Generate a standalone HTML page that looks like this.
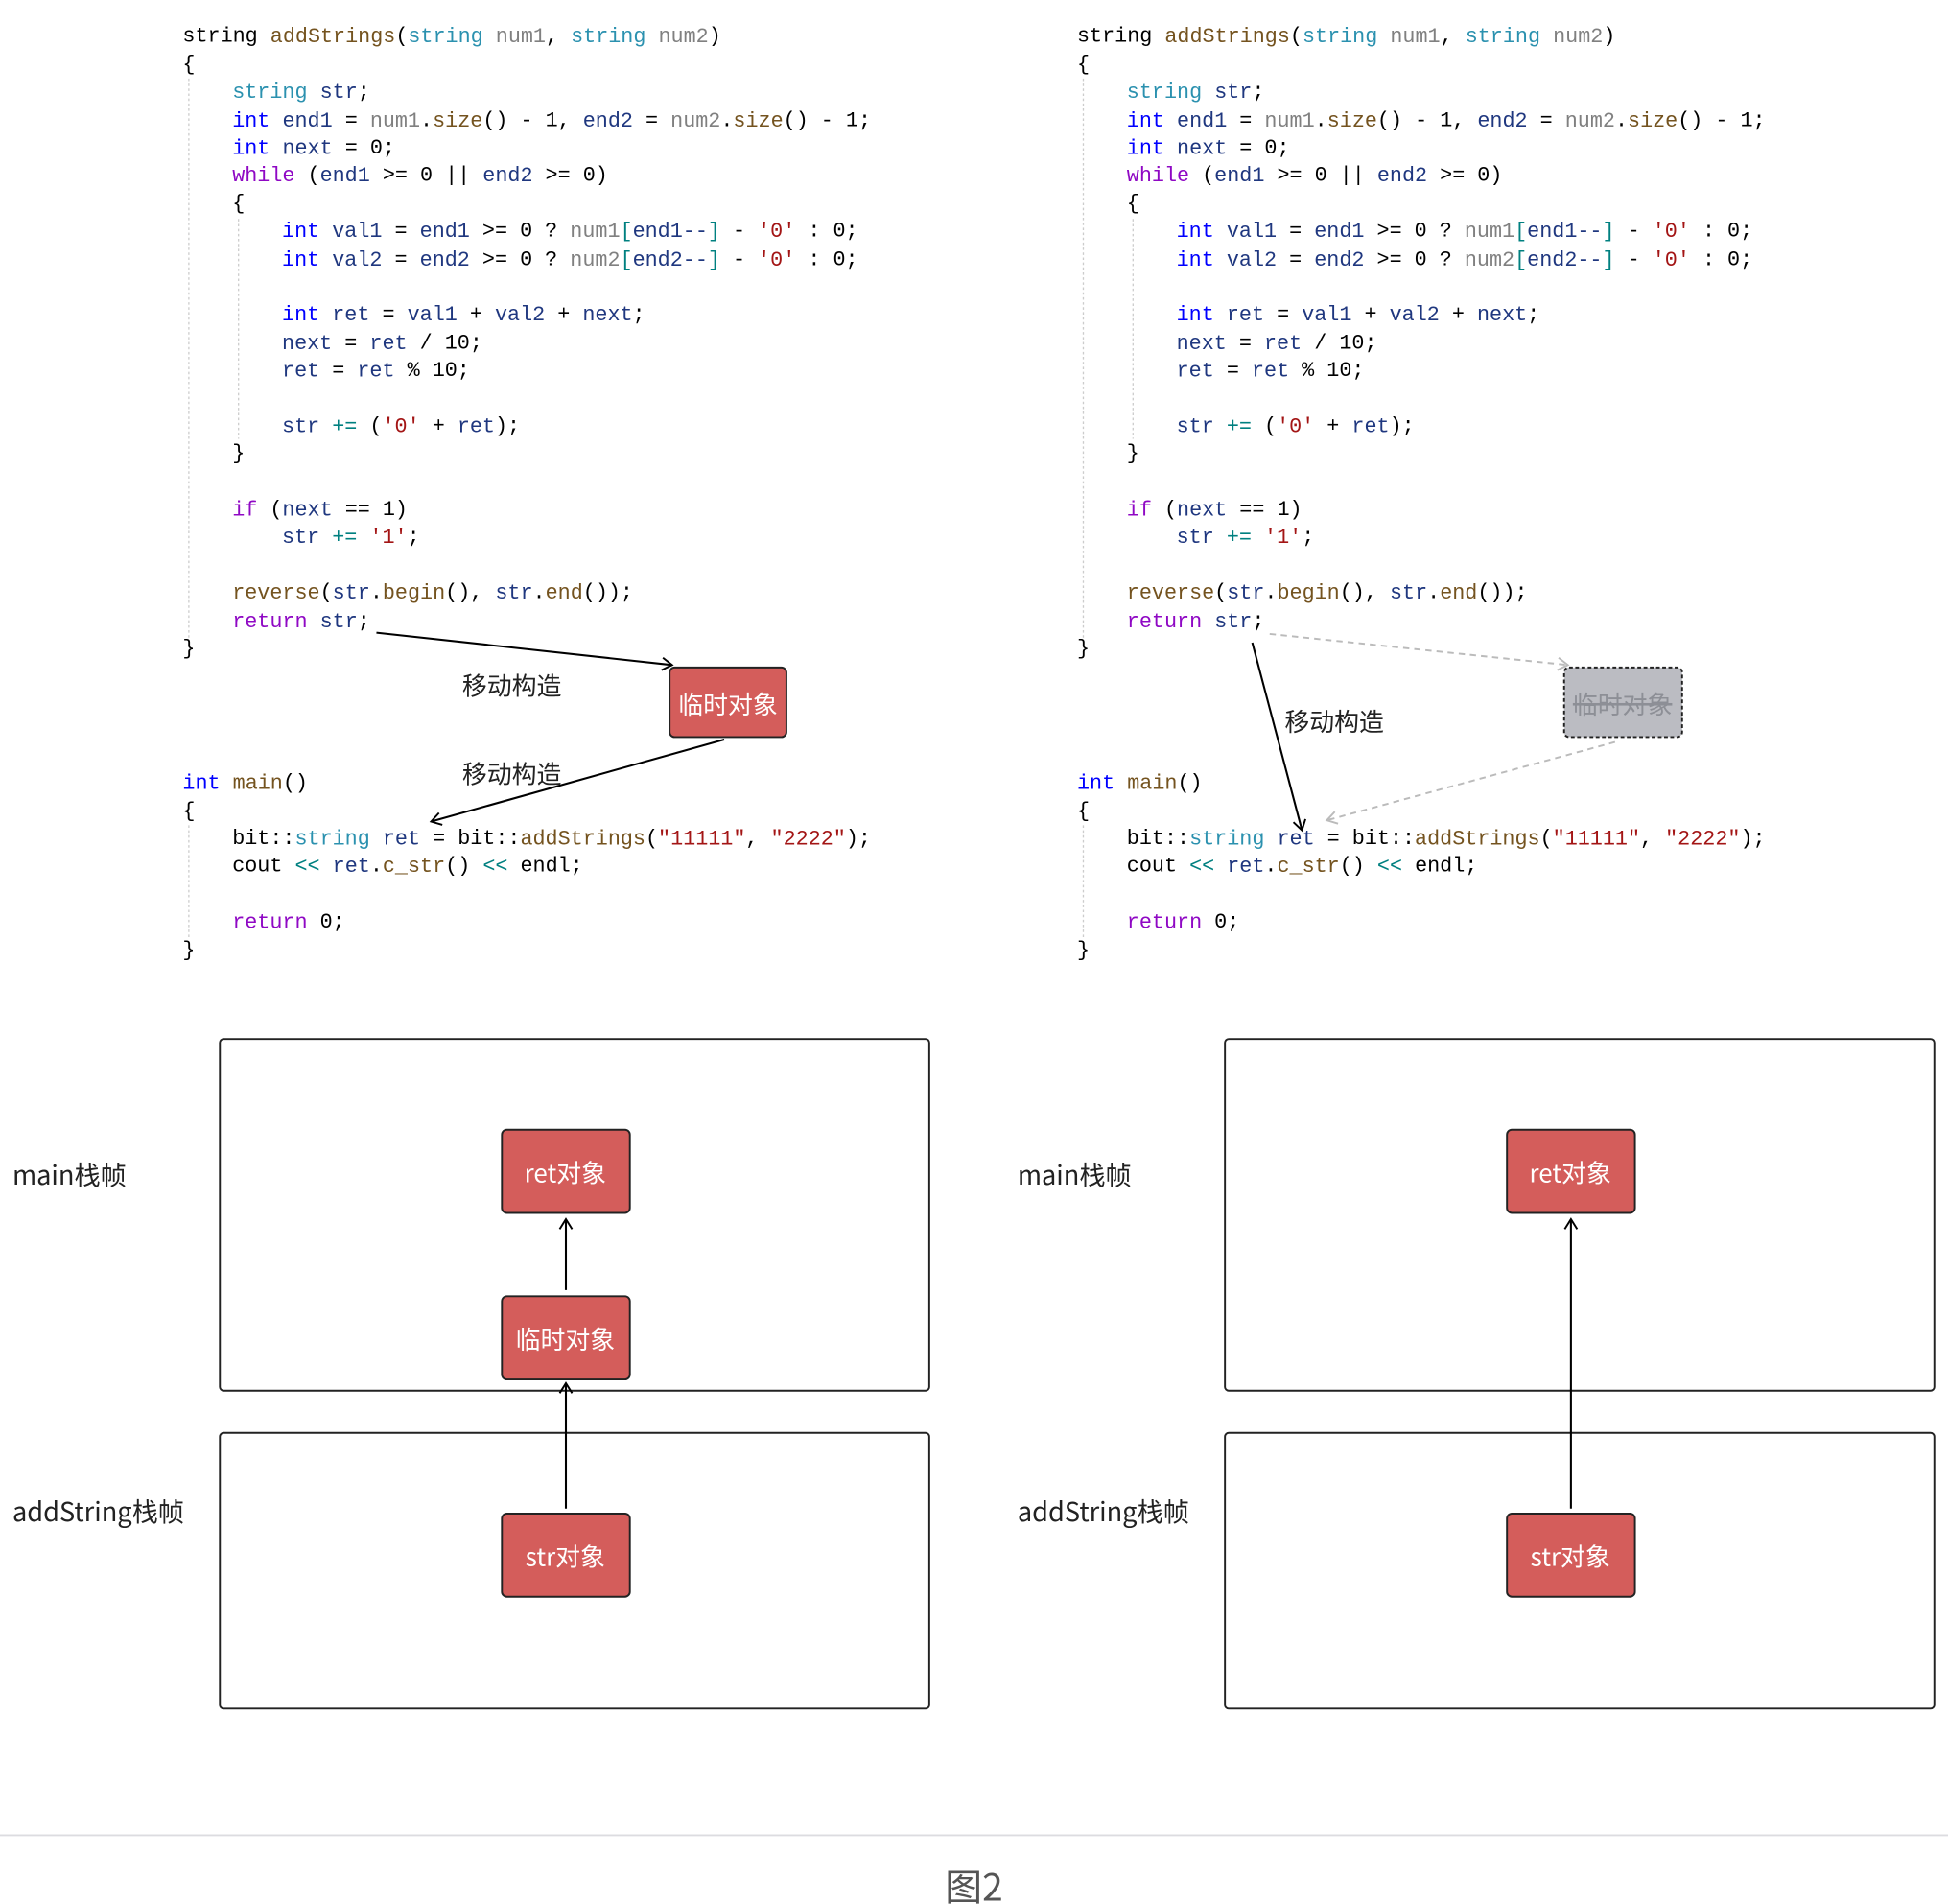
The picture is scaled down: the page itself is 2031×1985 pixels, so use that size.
<!DOCTYPE html>
<html><head><meta charset="utf-8"><style>
html,body{margin:0;padding:0;background:#fff;}
svg{display:block;}
.c{font-family:"Liberation Mono",monospace;font-size:16.8px;fill:#000;white-space:pre;}
.K{fill:#0000ff}.P{fill:#8f08c4}.T{fill:#2b91af}.F{fill:#74531f}.G{fill:#808080}.V{fill:#1f377f}.S{fill:#a31515}.O{fill:#008080}
.lb{font-family:"Noto Sans CJK SC",sans-serif;font-size:21px;fill:#222;}
.bx{font-family:"Noto Sans CJK SC",sans-serif;font-size:20px;fill:#fff;}
</style></head><body>
<svg width="2031" height="1985" viewBox="0 0 1568 1532" xmlns="http://www.w3.org/2000/svg">
<defs>
<marker id="a" markerWidth="12" markerHeight="12" refX="10" refY="6" orient="auto" markerUnits="userSpaceOnUse"><path d="M2,1 L10,6 L2,11" fill="none" stroke="#000" stroke-width="1.5"/></marker>
<marker id="ag" markerWidth="12" markerHeight="12" refX="10" refY="6" orient="auto" markerUnits="userSpaceOnUse"><path d="M2,1 L10,6 L2,11" fill="none" stroke="#bbb" stroke-width="1.5"/></marker>
</defs>

<g transform="translate(0,1)">
<line x1="152" y1="62" x2="152" y2="512" stroke="#ccc" stroke-dasharray="2,2"/>
<line x1="192" y1="175" x2="192" y2="352" stroke="#ccc" stroke-dasharray="2,2"/>
<line x1="152" y1="663" x2="152" y2="755" stroke="#ccc" stroke-dasharray="2,2"/>
<g class="c" dominant-baseline="central" xml:space="preserve">
<text x="147" y="28">string <tspan class="F">addStrings</tspan>(<tspan class="T">string</tspan> <tspan class="G">num1</tspan>, <tspan class="T">string</tspan> <tspan class="G">num2</tspan>)</text>
<text x="147" y="51">{</text>
<text x="187" y="73"><tspan class="T">string</tspan> <tspan class="V">str</tspan>;</text>
<text x="187" y="96"><tspan class="K">int</tspan> <tspan class="V">end1</tspan> = <tspan class="G">num1</tspan>.<tspan class="F">size</tspan>() - 1, <tspan class="V">end2</tspan> = <tspan class="G">num2</tspan>.<tspan class="F">size</tspan>() - 1;</text>
<text x="187" y="118"><tspan class="K">int</tspan> <tspan class="V">next</tspan> = 0;</text>
<text x="187" y="140"><tspan class="P">while</tspan> (<tspan class="V">end1</tspan> &gt;= 0 || <tspan class="V">end2</tspan> &gt;= 0)</text>
<text x="187" y="163">{</text>
<text x="227" y="185"><tspan class="K">int</tspan> <tspan class="V">val1</tspan> = <tspan class="V">end1</tspan> &gt;= 0 ? <tspan class="G">num1</tspan><tspan class="O">[</tspan><tspan class="V">end1--</tspan><tspan class="O">]</tspan> - <tspan class="S">'0'</tspan> : 0;</text>
<text x="227" y="208"><tspan class="K">int</tspan> <tspan class="V">val2</tspan> = <tspan class="V">end2</tspan> &gt;= 0 ? <tspan class="G">num2</tspan><tspan class="O">[</tspan><tspan class="V">end2--</tspan><tspan class="O">]</tspan> - <tspan class="S">'0'</tspan> : 0;</text>
<text x="227" y="252"><tspan class="K">int</tspan> <tspan class="V">ret</tspan> = <tspan class="V">val1</tspan> + <tspan class="V">val2</tspan> + <tspan class="V">next</tspan>;</text>
<text x="227" y="275"><tspan class="V">next</tspan> = <tspan class="V">ret</tspan> / 10;</text>
<text x="227" y="297"><tspan class="V">ret</tspan> = <tspan class="V">ret</tspan> % 10;</text>
<text x="227" y="342"><tspan class="V">str</tspan> <tspan class="O">+=</tspan> (<tspan class="S">'0'</tspan> + <tspan class="V">ret</tspan>);</text>
<text x="187" y="364">}</text>
<text x="187" y="409"><tspan class="P">if</tspan> (<tspan class="V">next</tspan> == 1)</text>
<text x="227" y="431"><tspan class="V">str</tspan> <tspan class="O">+=</tspan> <tspan class="S">'1'</tspan>;</text>
<text x="187" y="476"><tspan class="F">reverse</tspan>(<tspan class="V">str</tspan>.<tspan class="F">begin</tspan>(), <tspan class="V">str</tspan>.<tspan class="F">end</tspan>());</text>
<text x="187" y="499"><tspan class="P">return</tspan> <tspan class="V">str</tspan>;</text>
<text x="147" y="521">}</text>
<text x="147" y="629"><tspan class="K">int</tspan> <tspan class="F">main</tspan>()</text>
<text x="147" y="652">{</text>
<text x="187" y="674">bit::<tspan class="T">string</tspan> <tspan class="V">ret</tspan> = bit::<tspan class="F">addStrings</tspan>(<tspan class="S">"11111"</tspan>, <tspan class="S">"2222"</tspan>);</text>
<text x="187" y="696">cout <tspan class="O">&lt;&lt;</tspan> <tspan class="V">ret</tspan>.<tspan class="F">c_str</tspan>() <tspan class="O">&lt;&lt;</tspan> endl;</text>
<text x="187" y="741"><tspan class="P">return</tspan> 0;</text>
<text x="147" y="764">}</text>
</g>
</g>

<g transform="translate(720,1)">
<line x1="152" y1="62" x2="152" y2="512" stroke="#ccc" stroke-dasharray="2,2"/>
<line x1="192" y1="175" x2="192" y2="352" stroke="#ccc" stroke-dasharray="2,2"/>
<line x1="152" y1="663" x2="152" y2="755" stroke="#ccc" stroke-dasharray="2,2"/>
<g class="c" dominant-baseline="central" xml:space="preserve">
<text x="147" y="28">string <tspan class="F">addStrings</tspan>(<tspan class="T">string</tspan> <tspan class="G">num1</tspan>, <tspan class="T">string</tspan> <tspan class="G">num2</tspan>)</text>
<text x="147" y="51">{</text>
<text x="187" y="73"><tspan class="T">string</tspan> <tspan class="V">str</tspan>;</text>
<text x="187" y="96"><tspan class="K">int</tspan> <tspan class="V">end1</tspan> = <tspan class="G">num1</tspan>.<tspan class="F">size</tspan>() - 1, <tspan class="V">end2</tspan> = <tspan class="G">num2</tspan>.<tspan class="F">size</tspan>() - 1;</text>
<text x="187" y="118"><tspan class="K">int</tspan> <tspan class="V">next</tspan> = 0;</text>
<text x="187" y="140"><tspan class="P">while</tspan> (<tspan class="V">end1</tspan> &gt;= 0 || <tspan class="V">end2</tspan> &gt;= 0)</text>
<text x="187" y="163">{</text>
<text x="227" y="185"><tspan class="K">int</tspan> <tspan class="V">val1</tspan> = <tspan class="V">end1</tspan> &gt;= 0 ? <tspan class="G">num1</tspan><tspan class="O">[</tspan><tspan class="V">end1--</tspan><tspan class="O">]</tspan> - <tspan class="S">'0'</tspan> : 0;</text>
<text x="227" y="208"><tspan class="K">int</tspan> <tspan class="V">val2</tspan> = <tspan class="V">end2</tspan> &gt;= 0 ? <tspan class="G">num2</tspan><tspan class="O">[</tspan><tspan class="V">end2--</tspan><tspan class="O">]</tspan> - <tspan class="S">'0'</tspan> : 0;</text>
<text x="227" y="252"><tspan class="K">int</tspan> <tspan class="V">ret</tspan> = <tspan class="V">val1</tspan> + <tspan class="V">val2</tspan> + <tspan class="V">next</tspan>;</text>
<text x="227" y="275"><tspan class="V">next</tspan> = <tspan class="V">ret</tspan> / 10;</text>
<text x="227" y="297"><tspan class="V">ret</tspan> = <tspan class="V">ret</tspan> % 10;</text>
<text x="227" y="342"><tspan class="V">str</tspan> <tspan class="O">+=</tspan> (<tspan class="S">'0'</tspan> + <tspan class="V">ret</tspan>);</text>
<text x="187" y="364">}</text>
<text x="187" y="409"><tspan class="P">if</tspan> (<tspan class="V">next</tspan> == 1)</text>
<text x="227" y="431"><tspan class="V">str</tspan> <tspan class="O">+=</tspan> <tspan class="S">'1'</tspan>;</text>
<text x="187" y="476"><tspan class="F">reverse</tspan>(<tspan class="V">str</tspan>.<tspan class="F">begin</tspan>(), <tspan class="V">str</tspan>.<tspan class="F">end</tspan>());</text>
<text x="187" y="499"><tspan class="P">return</tspan> <tspan class="V">str</tspan>;</text>
<text x="147" y="521">}</text>
<text x="147" y="629"><tspan class="K">int</tspan> <tspan class="F">main</tspan>()</text>
<text x="147" y="652">{</text>
<text x="187" y="674">bit::<tspan class="T">string</tspan> <tspan class="V">ret</tspan> = bit::<tspan class="F">addStrings</tspan>(<tspan class="S">"11111"</tspan>, <tspan class="S">"2222"</tspan>);</text>
<text x="187" y="696">cout <tspan class="O">&lt;&lt;</tspan> <tspan class="V">ret</tspan>.<tspan class="F">c_str</tspan>() <tspan class="O">&lt;&lt;</tspan> endl;</text>
<text x="187" y="741"><tspan class="P">return</tspan> 0;</text>
<text x="147" y="764">}</text>
</g>
</g>

<!-- left arrows -->
<line x1="303" y1="509" x2="541" y2="535" stroke="#000" stroke-width="1.6" marker-end="url(#a)"/>
<rect x="539" y="537" width="94" height="56" rx="4" fill="#d45d5b" stroke="#222" stroke-width="1.5"/>
<text class="bx" x="586" y="566" text-anchor="middle" dominant-baseline="central">临时对象</text>
<text class="lb" x="372" y="551" dominant-baseline="central" style="font-size:20px">移动构造</text>
<line x1="583" y1="595" x2="347" y2="661" stroke="#000" stroke-width="1.6" marker-end="url(#a)"/>
<text class="lb" x="372" y="622" dominant-baseline="central" style="font-size:20px">移动构造</text>

<!-- right arrows -->
<line x1="1022" y1="510" x2="1262" y2="535" stroke="#bbb" stroke-width="1.5" stroke-dasharray="5,4" marker-end="url(#ag)"/>
<rect x="1259" y="537" width="95" height="56" rx="4" fill="#bbbcc2" stroke="#222" stroke-width="1.5" stroke-dasharray="3,2"/>
<text class="bx" x="1306" y="566" text-anchor="middle" dominant-baseline="central" style="fill:#8d8f96;text-decoration:line-through">临时对象</text>
<line x1="1300" y1="597" x2="1068" y2="660" stroke="#bbb" stroke-width="1.5" stroke-dasharray="5,4" marker-end="url(#ag)"/>
<line x1="1008" y1="517" x2="1048" y2="668" stroke="#000" stroke-width="1.6" marker-end="url(#a)"/>
<text class="lb" x="1034" y="580" dominant-baseline="central" style="font-size:20px">移动构造</text>

<!-- bottom left -->
<rect x="177" y="836" width="571" height="283" rx="3" fill="none" stroke="#222" stroke-width="1.5"/>
<rect x="177" y="1153" width="571" height="222" rx="3" fill="none" stroke="#222" stroke-width="1.5"/>
<text class="lb" x="10" y="944" dominant-baseline="central">main栈帧</text>
<text class="lb" x="10" y="1215" dominant-baseline="central">addString栈帧</text>
<rect x="404" y="909" width="103" height="67" rx="4" fill="#d45d5b" stroke="#222" stroke-width="1.5"/>
<text class="bx" x="455" y="943" text-anchor="middle" dominant-baseline="central">ret对象</text>
<rect x="404" y="1043" width="103" height="67" rx="4" fill="#d45d5b" stroke="#222" stroke-width="1.5"/>
<text class="bx" x="455" y="1077" text-anchor="middle" dominant-baseline="central">临时对象</text>
<rect x="404" y="1218" width="103" height="67" rx="4" fill="#d45d5b" stroke="#222" stroke-width="1.5"/>
<text class="bx" x="455" y="1252" text-anchor="middle" dominant-baseline="central">str对象</text>
<line x1="455.5" y1="1038" x2="455.5" y2="981" stroke="#000" stroke-width="1.6" marker-end="url(#a)"/>
<line x1="455.5" y1="1214" x2="455.5" y2="1113" stroke="#000" stroke-width="1.6" marker-end="url(#a)"/>

<!-- bottom right -->
<rect x="986" y="836" width="571" height="283" rx="3" fill="none" stroke="#222" stroke-width="1.5"/>
<rect x="986" y="1153" width="571" height="222" rx="3" fill="none" stroke="#222" stroke-width="1.5"/>
<text class="lb" x="819" y="944" dominant-baseline="central">main栈帧</text>
<text class="lb" x="819" y="1215" dominant-baseline="central">addString栈帧</text>
<rect x="1213" y="909" width="103" height="67" rx="4" fill="#d45d5b" stroke="#222" stroke-width="1.5"/>
<text class="bx" x="1264" y="943" text-anchor="middle" dominant-baseline="central">ret对象</text>
<rect x="1213" y="1218" width="103" height="67" rx="4" fill="#d45d5b" stroke="#222" stroke-width="1.5"/>
<text class="bx" x="1264" y="1252" text-anchor="middle" dominant-baseline="central">str对象</text>
<line x1="1264.5" y1="1214" x2="1264.5" y2="981" stroke="#000" stroke-width="1.6" marker-end="url(#a)"/>

<line x1="0" y1="1477" x2="1568" y2="1477" stroke="#dcdce0" stroke-width="1.5"/>
<text x="784" y="1517" text-anchor="middle" dominant-baseline="central" style="font-family:'Noto Sans CJK SC',sans-serif;font-size:30px;fill:#555">图2</text>
</svg>
</body></html>
